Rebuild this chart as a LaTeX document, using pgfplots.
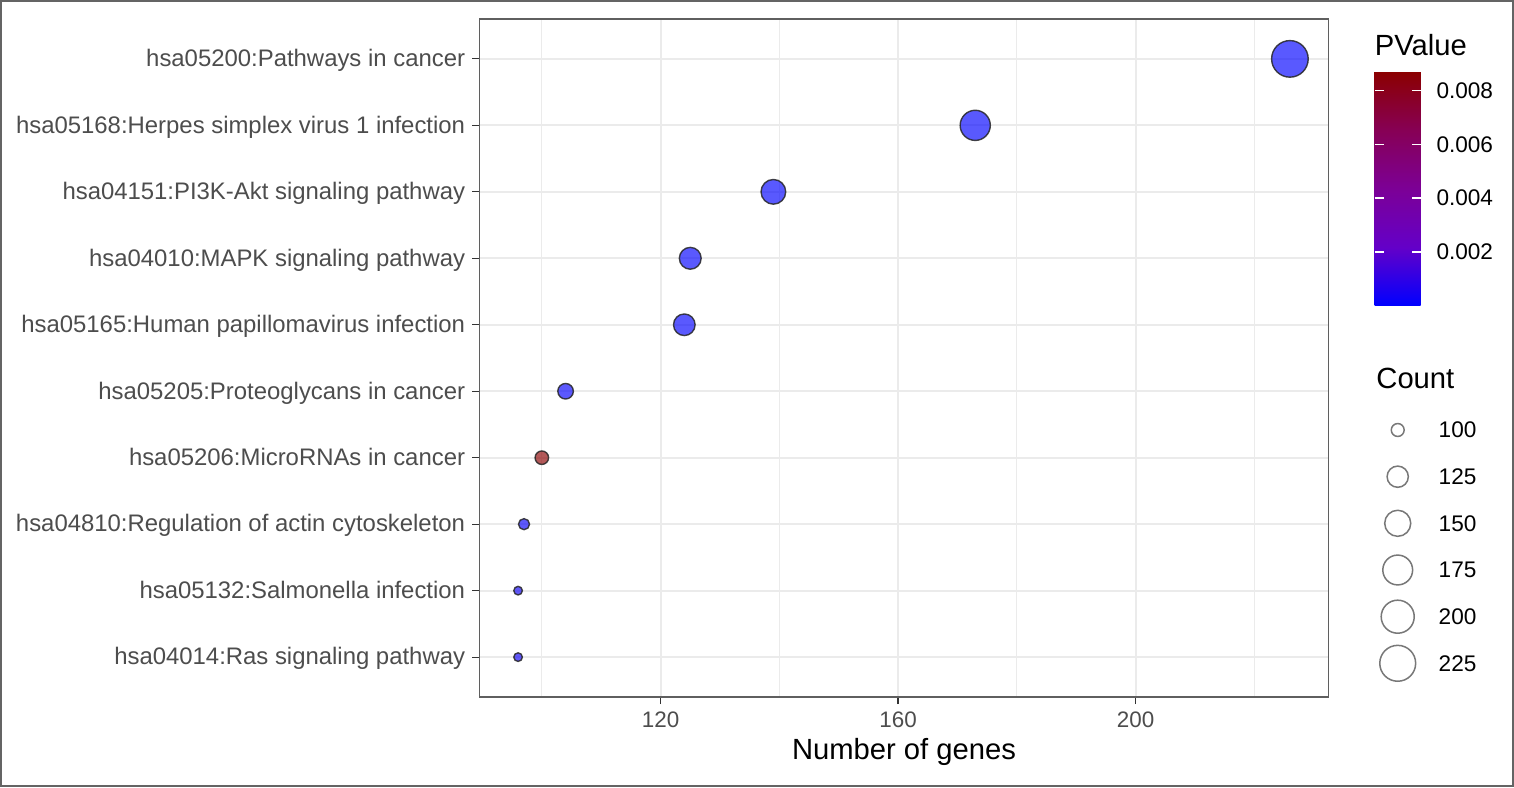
\documentclass[border=0pt]{standalone}
\usepackage{pgfplots}
\pgfplotsset{compat=1.18}
\usepackage{pgfplotstable}
\usepackage{fontspec}
\setmainfont{Liberation Sans}
\pgfplotsset{/pgf/number format/assume math mode=true}

\definecolor{txtgray}{RGB}{77,77,77}
\definecolor{gridgray}{RGB}{235,235,235}
\definecolor{panelborder}{RGB}{95,95,95}
\definecolor{framegray}{RGB}{100,100,100}
\definecolor{legendgray}{RGB}{120,120,120}

% position (bottom=1), number of genes, p-value
\pgfplotstableread{
y genes pvalue
10 226 0.00001
9 173 0.00002
8 139 0.00003
7 125 0.00004
6 124 0.00005
5 104 0.00010
4 100 0.00870
3 97 0.00020
2 96 0.00030
1 96 0.00030
}\pathwaydata

% size legend: position in pt, count
\pgfplotstableread{
x y count
459.1 133.5 100
459.1 110.15 125
459.1 86.85 150
459.1 63.5 175
459.1 40.15 200
459.1 16.85 225
}\sizelegend

\newcommand{\ylabfont}{\fontsize{11.95}{13}\selectfont}
\newcommand{\xlabfont}{\fontsize{11.2}{13}\selectfont}
\newcommand{\legfont}{\fontsize{11.3}{13}\selectfont}
\newcommand{\titfont}{\fontsize{14.6}{16}\selectfont}

\begin{document}
\begin{tikzpicture}
\useasboundingbox (-239.75pt,-45pt) rectangle (517.25pt,348.5pt);
\fill[white] (-239.75pt,-45pt) rectangle (517.25pt,348.5pt);
\draw[framegray, line width=1pt] (-239.25pt,-44.5pt) rectangle (516.75pt,348pt);

\begin{axis}[
  at={(0pt,0pt)}, anchor=south west,
  scale only axis, width=424.5pt, height=339pt,
  xmin=89.5, xmax=232.5, ymin=0.4, ymax=10.6,
  xtick={120,160,200}, minor xtick={100,140,180,220},
  ytick={1,2,3,4,5,6,7,8,9,10},
  yticklabels={hsa04014:Ras signaling pathway,
    hsa05132:Salmonella infection,
    hsa04810:Regulation of actin cytoskeleton,
    hsa05206:MicroRNAs in cancer,
    hsa05205:Proteoglycans in cancer,
    hsa05165:Human papillomavirus infection,
    hsa04010:MAPK signaling pathway,
    hsa04151:PI3K-Akt signaling pathway,
    hsa05168:Herpes simplex virus 1 infection,
    hsa05200:Pathways in cancer},
  xmajorgrids, xminorgrids, ymajorgrids,
  major grid style={gridgray, line width=1pt},
  minor grid style={gridgray, line width=0.55pt},
  axis line style={panelborder, line width=0.7pt},
  tick align=outside, tick pos=left,
  major tick length=3.5pt, minor tick length=0pt,
  tick style={black!80, line width=0.6pt},
  yticklabel style={font=\ylabfont, text=txtgray, inner sep=0pt, anchor=base east, xshift=-3.5pt, yshift=-3.9pt},
  xticklabel style={font=\xlabfont, text=txtgray, inner sep=0pt, yshift=-3.5pt},
  xlabel={Number of genes},
  xlabel style={font=\titfont, at={(axis description cs:0.5,0)}, anchor=base, yshift=-31pt, inner sep=0pt},
  colormap={pv}{rgb255=(0,0,255) rgb255=(100,0,200) rgb255=(124,0,150) rgb255=(135,0,85) rgb255=(139,0,0)},
  point meta min=0, point meta max=0.0087,
  colorbar right,
  colorbar/width=23pt,
  colorbar shift/.style={xshift=23pt, yshift=-26.35pt},
  colorbar style={
    at={(parent axis.north east)}, anchor=north west,
    height=117pt,
    ytick={0.002,0.004,0.006,0.008},
    scaled y ticks=false,
    yticklabel style={font=\legfont, text=black, inner sep=0pt, xshift=7.8pt,
      /pgf/number format/fixed, /pgf/number format/precision=3,
      /pgf/number format/fixed zerofill},
    tick align=inside, major tick length=4.5pt,
    ytick pos=both, yticklabel pos=right,
    ytick style={white, line width=0.8pt},
    axis line style={draw=none},
    title={PValue},
    title style={at={(0,1)}, anchor=base west, yshift=1.85pt, inner sep=0pt, font=\titfont},
  },
  clip=false,
]
\addplot[
  scatter, only marks, mark=*,
  point meta=\thisrow{pvalue},
  scatter/use mapped color={draw=black!85, draw opacity=0.85, fill=mapped color, fill opacity=0.65},
  visualization depends on={1.4*(1+5*sqrt(max(\thisrow{genes}-96,0)/130))+0.75 \as \msize},
  scatter/@pre marker code/.append style={/tikz/mark size=\msize},
  mark options={line width=0.7pt},
] table[x=genes, y=y] {\pathwaydata};
\end{axis}

\begin{axis}[
  at={(0pt,0pt)}, anchor=south west,
  scale only axis, width=517pt, height=348pt,
  xmin=0, xmax=517, ymin=0, ymax=348,
  axis lines=none, clip=false,
]
\addplot[
  scatter, only marks, mark=o,
  point meta=\thisrow{count},
  scatter/use mapped color={draw=legendgray},
  visualization depends on={1.4*(1+5*sqrt(max(\thisrow{count}-96,0)/130))+0.6 \as \msize},
  scatter/@pre marker code/.append style={/tikz/mark size=\msize},
  mark options={line width=0.75pt},
] table[x=x, y=y] {\sizelegend};
\addplot[
  only marks, mark=none,
  point meta=\thisrow{count},
  nodes near coords={\pgfmathprintnumber{\pgfplotspointmeta}},
  nodes near coords align=horizontal,
  every node near coord/.append style={font=\legfont, text=black, inner sep=0pt, anchor=west, xshift=20.3pt},
] table[x=x, y=y] {\sizelegend};
\node[anchor=base west, inner sep=0pt, font=\titfont] at (axis cs:448.25,154.35) {Count};
\end{axis}
\end{tikzpicture}
\end{document}
